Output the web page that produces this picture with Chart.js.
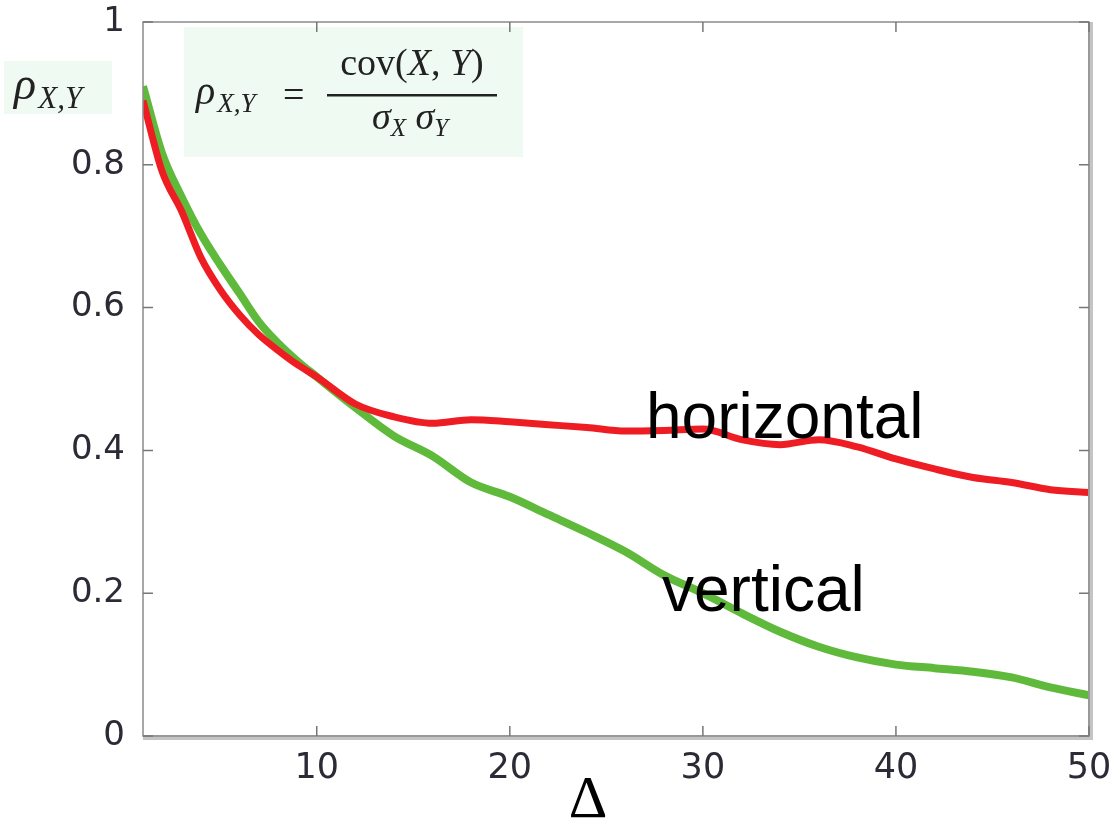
<!DOCTYPE html>
<html>
<head>
<meta charset="utf-8">
<script src="https://cdn.jsdelivr.net/npm/chart.js@4.4.1/dist/chart.umd.min.js"></script>
<style>
  body { margin: 0; background: #fff; }
  canvas { display: block; }
</style>
</head>
<body>
<canvas id="corrChart" width="1118" height="821"></canvas>
<script>
const deltas = [1, 2, 3, 4, 5, 6, 7, 8, 9, 10, 12, 14, 16, 18, 20, 22, 24, 26, 28, 30, 32, 34, 36, 38, 40, 42, 44, 46, 48, 50];
const horizontal = [0.89, 0.79, 0.735, 0.67, 0.625, 0.59, 0.562, 0.54, 0.52, 0.503, 0.465, 0.447, 0.438, 0.443, 0.44, 0.436, 0.432, 0.427, 0.428, 0.43, 0.415, 0.408, 0.415, 0.405, 0.388, 0.374, 0.362, 0.355, 0.345, 0.341];
const vertical = [0.91, 0.815, 0.755, 0.703, 0.66, 0.62, 0.58, 0.55, 0.525, 0.503, 0.46, 0.42, 0.392, 0.355, 0.335, 0.31, 0.285, 0.258, 0.225, 0.2, 0.172, 0.146, 0.125, 0.11, 0.1, 0.095, 0.09, 0.082, 0.068, 0.057];
const xTicks = [10, 20, 30, 40, 50];
const yTicks = [0, 0.2, 0.4, 0.6, 0.8, 1];

const serif = '"Liberation Serif", "DejaVu Serif", serif';

// draw pieces of text one after the other: [text, font, baseline shift]
function drawRun(ctx, parts, x, base) {
  parts.forEach(p => {
    ctx.font = p[1];
    ctx.fillText(p[0], x, base + (p[2] || 0));
    x += ctx.measureText(p[0]).width;
  });
}

function runWidth(ctx, parts) {
  let w = 0;
  parts.forEach(p => { ctx.font = p[1]; w += ctx.measureText(p[0]).width; });
  return w;
}

function rho(size) {
  return [
    ['ρ', 'italic ' + size + 'px ' + serif, 0],
    [' ', Math.round(size * 0.2) + 'px ' + serif, 0],
    ['X,Y', 'italic ' + Math.round(size * 0.68) + 'px ' + serif, Math.round(size * 0.2)]
  ];
}

// frame, inward ticks, formula boxes and annotations
const decorations = {
  id: 'decorations',
  beforeDatasetsDraw(chart) {
    const ctx = chart.ctx;
    ctx.save();
    ctx.fillStyle = '#effaf3';
    ctx.fillRect(184, 27, 339, 130);
    ctx.fillRect(4, 61, 108, 53);
    ctx.restore();
  },
  afterDraw(chart) {
    const ctx = chart.ctx;
    const a = chart.chartArea;
    const xs = chart.scales.x, ys = chart.scales.y;
    ctx.save();
    // shadowed frame
    ctx.fillStyle = '#c4c4c4';
    ctx.fillRect(a.right - 1, a.top, 5, a.bottom - a.top + 4);
    ctx.fillRect(a.left, a.bottom - 1, a.right - a.left + 4, 5);
    ctx.strokeStyle = '#8a8a8a';
    ctx.lineWidth = 1.5;
    ctx.strokeRect(a.left, a.top, a.right - a.left, a.bottom - a.top);
    // inward ticks
    ctx.strokeStyle = '#777';
    ctx.beginPath();
    xTicks.forEach(v => {
      const px = xs.getPixelForValue(v);
      ctx.moveTo(px, a.bottom); ctx.lineTo(px, a.bottom - 10);
      ctx.moveTo(px, a.top); ctx.lineTo(px, a.top + 10);
    });
    yTicks.forEach(v => {
      const py = ys.getPixelForValue(v);
      ctx.moveTo(a.left, py); ctx.lineTo(a.left + 10, py);
      ctx.moveTo(a.right, py); ctx.lineTo(a.right - 10, py);
    });
    ctx.stroke();

    // formulas
    ctx.fillStyle = '#222';
    ctx.textBaseline = 'alphabetic';
    ctx.textAlign = 'left';
    drawRun(ctx, rho(46), 14, 99);
    drawRun(ctx, rho(40), 196, 104);
    ctx.font = '38px ' + serif;
    ctx.fillText('=', 283, 107);
    ctx.fillRect(327, 94, 170, 2.5);

    const up = '38px ' + serif, it = 'italic 38px ' + serif;
    const num = [['cov(', up], ['X', it], [', ', up], ['Y', it], [')', up]];
    drawRun(ctx, num, 412 - runWidth(ctx, num) / 2, 75);
    const sub = 'italic 25px ' + serif;
    const den = [['σ', it], ['X', sub, 7], [' σ', it], ['Y', sub, 7]];
    drawRun(ctx, den, 410 - runWidth(ctx, den) / 2, 129);

    // series labels
    ctx.fillStyle = '#000';
    ctx.font = '64px "Liberation Sans", Arial, sans-serif';
    ctx.fillText('horizontal', 646, 438);
    ctx.fillText('vertical', 662, 611);

    // axis label
    ctx.textAlign = 'center';
    ctx.font = '60px ' + serif;
    ctx.fillText('Δ', 588, 817);
    ctx.restore();
  }
};

const chart = new Chart(document.getElementById('corrChart').getContext('2d'), {
  type: 'line',
  data: {
    datasets: [{
      label: 'horizontal',
      data: deltas.map((d, i) => ({ x: d, y: horizontal[i] })),
      borderColor: '#ee1d23',
      borderWidth: 7,
      pointRadius: 0,
      cubicInterpolationMode: 'monotone'
    }, {
      label: 'vertical',
      data: deltas.map((d, i) => ({ x: d, y: vertical[i] })),
      borderColor: '#5fba3c',
      borderWidth: 8,
      pointRadius: 0,
      cubicInterpolationMode: 'monotone'
    }]
  },
  options: {
    responsive: false,
    animation: false,
    layout: { padding: { top: 22, right: 29, left: 0, bottom: 0 } },
    plugins: { legend: { display: false }, tooltip: { enabled: false } },
    scales: {
      x: {
        type: 'linear',
        min: 1,
        max: 50,
        afterBuildTicks: s => { s.ticks = xTicks.map(v => ({ value: v })); },
        afterFit: s => { s.height = 85; s.paddingLeft = 0; s.paddingRight = 0; },
        grid: { display: false, drawTicks: false },
        border: { display: false },
        ticks: {
          padding: 12,
          color: '#2b2b36',
          font: { family: '"DejaVu Sans", sans-serif', size: 35 }
        }
      },
      y: {
        min: 0,
        max: 1,
        afterBuildTicks: s => { s.ticks = yTicks.map(v => ({ value: v })); },
        afterFit: s => { s.width = 143; s.paddingTop = 0; s.paddingBottom = 0; },
        grid: { display: false, drawTicks: false },
        border: { display: false },
        ticks: {
          padding: 18,
          color: '#2b2b36',
          font: { family: '"DejaVu Sans", sans-serif', size: 34 },
          callback: v => (v === 0 || v === 1) ? String(v) : v.toFixed(1)
        }
      }
    }
  },
  plugins: [decorations]
});
</script>
</body>
</html>
